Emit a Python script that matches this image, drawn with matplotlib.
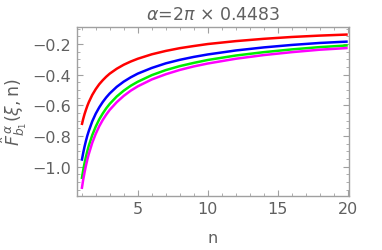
import matplotlib.pyplot as plt
from matplotlib.ticker import MultipleLocator, FuncFormatter

# values
n = [1, 1.1, 1.2, 1.3, 1.4, 1.5, 1.75, 2, 2.25, 2.5, 2.75, 3, 3.5, 4, 4.5,
     5, 6, 7, 8, 9, 10, 12, 14, 16, 18, 20]
red = [-0.728, -0.690, -0.657, -0.629, -0.603, -0.580, -0.532, -0.494, -0.462,
       -0.436, -0.413, -0.393, -0.361, -0.335, -0.314, -0.296, -0.267, -0.245,
       -0.227, -0.213, -0.200, -0.181, -0.166, -0.154, -0.145, -0.138]
blue = [-0.961, -0.912, -0.869, -0.831, -0.797, -0.768, -0.704, -0.654, -0.613,
        -0.578, -0.548, -0.522, -0.479, -0.445, -0.417, -0.393, -0.356, -0.326,
        -0.303, -0.284, -0.268, -0.242, -0.222, -0.206, -0.193, -0.184]
green = [-1.080, -1.025, -0.977, -0.935, -0.898, -0.864, -0.794, -0.738, -0.691,
         -0.653, -0.619, -0.590, -0.542, -0.504, -0.472, -0.446, -0.403, -0.370,
         -0.344, -0.323, -0.304, -0.275, -0.253, -0.235, -0.220, -0.209]
magenta = [-1.145, -1.087, -1.037, -0.993, -0.953, -0.918, -0.844, -0.785, -0.736,
           -0.695, -0.660, -0.629, -0.579, -0.538, -0.504, -0.476, -0.431, -0.397,
           -0.369, -0.346, -0.327, -0.296, -0.272, -0.253, -0.237, -0.226]

series = [(red, '#ff0000'), (blue, '#0000ff'), (green, '#00ee00'), (magenta, '#ff00ff')]

plt.rcParams['font.family'] = ['DejaVu Sans']
plt.rcParams['mathtext.fontset'] = 'dejavusans'
gray = '#a0a0a0'
textc = '#606060'

fig = plt.figure(figsize=(3.82, 2.51), dpi=100)
ax = fig.add_axes([0.2008, 0.2163, 0.7128, 0.6721])

for ys, c in series:
    ax.plot(n, ys, color=c, lw=1.8, solid_capstyle='butt', solid_joinstyle='round')

ax.set_xlim(0.64, 20.09)
ax.set_ylim(-1.189, -0.089)

ax.xaxis.set_major_locator(MultipleLocator(5))
ax.xaxis.set_minor_locator(MultipleLocator(1))
ax.yaxis.set_major_locator(MultipleLocator(0.2))
ax.yaxis.set_minor_locator(MultipleLocator(0.05))
ax.yaxis.set_major_formatter(FuncFormatter(lambda v, p: f"{v:.1f}".replace('-', '\u2212')))

ax.tick_params(which='both', direction='in', top=True, right=True, color=gray,
               labelcolor=textc, labelsize=11.5)
ax.tick_params(which='major', length=4, width=0.8, pad=4)
ax.tick_params(which='minor', length=2, width=0.6)
for s in ax.spines.values():
    s.set_color(gray)
    s.set_linewidth(1.0)

ax.set_xlabel('n', color=textc, fontsize=11.5, labelpad=10)
ax.set_ylabel(r'$\hat{F}^{\,\alpha}_{b_1}(\xi,\mathrm{n})$', color=textc, fontsize=12.5, labelpad=2)
ax.set_title(r'$\alpha$=2$\pi$ $\times$ 0.4483', color=textc, fontsize=12.5, pad=6)

fig.savefig('out.png', dpi=100)
